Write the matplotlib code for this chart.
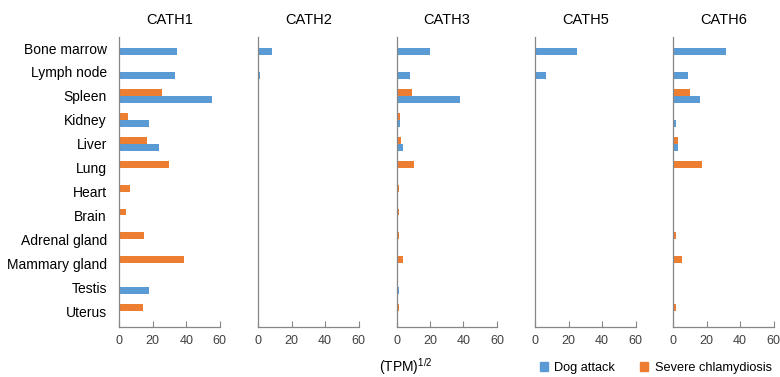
import numpy as np
import matplotlib
matplotlib.use("Agg")
import matplotlib.pyplot as plt
from matplotlib.patches import Patch

plt.rcParams["font.family"] = ["Liberation Sans", "DejaVu Sans"]
plt.rcParams["mathtext.fontset"] = "custom"
plt.rcParams["mathtext.rm"] = "Liberation Sans"

tissues = ["Bone marrow", "Lymph node", "Spleen", "Kidney", "Liver", "Lung",
           "Heart", "Brain", "Adrenal gland", "Mammary gland", "Testis", "Uterus"]
genes = ["CATH1", "CATH2", "CATH3", "CATH5", "CATH6"]

# (TPM)^1/2 per tissue
dog_attack = {
    "CATH1": [34.4, 33.0, 55.2, 17.5, 23.5, 0, 0, 0, 0, 0, 17.5, 0],
    "CATH2": [8.3, 1.2, 0, 0, 0, 0, 0, 0, 0, 0, 0, 0],
    "CATH3": [20.0, 8.1, 37.7, 2.1, 3.8, 0, 0, 0, 0, 0, 1.7, 0],
    "CATH5": [25.2, 6.4, 0, 0.8, 0.2, 0, 0, 0, 0, 0, 0.8, 0],
    "CATH6": [31.4, 9.1, 16.1, 1.8, 2.7, 0, 0, 0, 0, 0, 0.8, 0],
}
chlamydiosis = {
    "CATH1": [0, 0, 25.3, 5.3, 16.5, 29.5, 6.6, 3.9, 15.0, 38.7, 0, 14.0],
    "CATH2": [0, 0, 0, 0, 0, 0, 0, 0, 0, 0, 0, 0],
    "CATH3": [0, 0, 9.5, 2.1, 2.7, 10.4, 1.2, 1.2, 1.2, 3.8, 0, 1.7],
    "CATH5": [0, 0, 0, 0, 0, 0, 0, 0, 0, 0.8, 0, 0],
    "CATH6": [0, 0, 9.9, 0, 3.1, 17.3, 0.8, 0, 1.8, 5.4, 0, 1.8],
}
xticks = [0, 20, 40, 60]

BLUE = "#5B9BD5"
ORANGE = "#ED7D31"
GREY = "#868686"

W, H = 780, 377
fig = plt.figure(figsize=(W / 100, H / 100), dpi=100)

lefts = [119.3, 258.0, 396.5, 535.0, 673.0]
ax_w = 100.5
ax_top, ax_bot = 37, 327
y = np.arange(len(tissues))
bh = 0.29

for i, g in enumerate(genes):
    ax = fig.add_axes([lefts[i] / W, 1 - ax_bot / H, ax_w / W, (ax_bot - ax_top) / H])
    ax.barh(y + bh / 2, dog_attack[g], height=bh, color=BLUE, edgecolor="none")
    ax.barh(y - bh / 2, chlamydiosis[g], height=bh, color=ORANGE, edgecolor="none")
    ax.set_xlim(0, 60)
    ax.set_ylim(11.66, -0.46)
    ax.set_xticks(xticks)
    ax.set_xticklabels([str(t) for t in xticks], fontsize=9, color="#404040")
    ax.tick_params(axis="x", direction="in", length=4, color=GREY, pad=6)
    ax.tick_params(axis="y", length=0)
    for s in ["top", "right"]:
        ax.spines[s].set_visible(False)
    for s in ["left", "bottom"]:
        ax.spines[s].set_color(GREY)
        ax.spines[s].set_linewidth(0.9)
    if i == 0:
        ax.set_yticks(y)
        ax.set_yticklabels(tissues, fontsize=10)
        ax.tick_params(axis="y", pad=9)
    else:
        ax.set_yticks([])
    ax.text(0.5, 1 + 17 / (ax_bot - ax_top), g, transform=ax.transAxes,
            ha="center", va="center", fontsize=10.5)

fig.text(406 / W, 1 - 367 / H, r"(TPM)$^{\mathregular{1/2}}$", ha="center", va="center",
         fontsize=10)

handles = [Patch(color=BLUE, label="Dog attack"),
           Patch(color=ORANGE, label="Severe chlamydiosis")]
fig.legend(handles=handles, loc="center left", bbox_to_anchor=(540 / W, 1 - 368 / H),
           ncol=2, frameon=False, fontsize=9.2, handlelength=0.6, handleheight=0.6,
           handletextpad=0.5, columnspacing=2.0, borderpad=0, borderaxespad=0)

fig.savefig("out.png", dpi=100)
